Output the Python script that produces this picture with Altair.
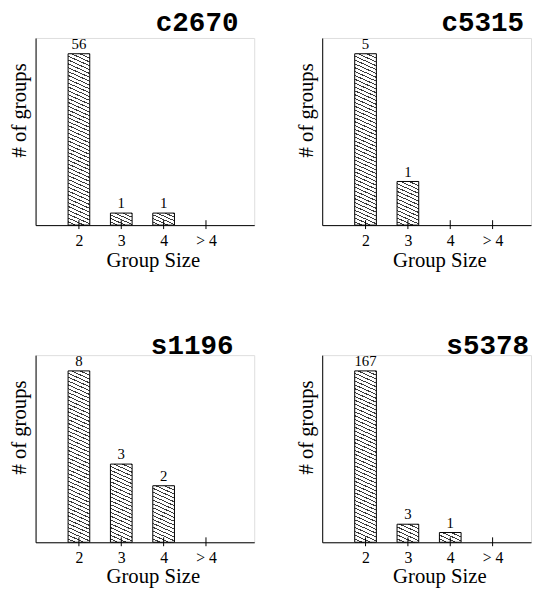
import json
import math
import altair as alt
import pandas as pd

# ---------------- data ----------------
group_sizes = ["2", "3", "4", "> 4"]
circuits = ["c2670", "c5315", "s1196", "s5378"]
counts_c2670 = [56, 1, 1, 0]
counts_c5315 = [5, 1, 0, 0]
counts_s1196 = [8, 3, 2, 0]
counts_s5378 = [167, 3, 1, 0]
all_counts = [counts_c2670, counts_c5315, counts_s1196, counts_s5378]

# ---------------- styling ----------------
H = 190
WIDTHS = [222, 212, 222, 212]
STEP = 43.0              # px between category ticks
LEFT_GAP = 44.0          # px from y axis to first tick
BAR_H_MAX = 174          # pixel height of tallest bar
BAR_W = 22
EXPONENTS = [0.66, 0.85, 0.80, 0.56]   # per-panel pow scale (figure is not linear)
TITLE_OFFSETS = [0, 0, -6, -6]
TITLE_DX = [-16, -7, -21, -2]
X_TITLE_Y = [25, 25, 24, 24]
SERIF = "Liberation Serif"
MONO = "Liberation Mono"
SLOPE = 0.45
PERIOD = 3.6


def hatch(h, w=BAR_W, s=SLOPE):
    """Diagonal '\\' hatching as a striped linear gradient for a bar of w x h px."""
    k = (h + s * w) / (s * s * w * w + h * h)
    x2 = 1 - k * s * w
    y2 = k * h
    n = max(1, round((h + s * w) / math.sqrt(1 + s * s) / PERIOD))
    f = 0.28
    stops = []
    for i in range(n):
        a, b, c = i / n, (i + f) / n, (i + 1) / n
        stops += [
            {"offset": a, "color": "#3a3a3a"},
            {"offset": b, "color": "#3a3a3a"},
            {"offset": b, "color": "#ffffff"},
            {"offset": c, "color": "#ffffff"},
        ]
    return {"gradient": "linear", "x1": 1, "y1": 0, "x2": x2, "y2": y2, "stops": stops}


label_expr = json.dumps(group_sizes) + "[datum.value]"


def panel(name, counts, expo, title_offset, W, x_title_y, tdx):
    df = pd.DataFrame({"pos": list(range(len(group_sizes))),
                       "size": group_sizes,
                       "count": counts})
    vmax = max(counts)
    dmax = vmax * (H / BAR_H_MAX) ** (1 / expo)
    x0 = -LEFT_GAP / STEP
    xscale = alt.Scale(domain=[x0, x0 + W / STEP], nice=False, zero=False, padding=0)
    yscale = alt.Scale(type="pow", exponent=expo, domain=[0, dmax], nice=False, padding=0)
    xaxis = alt.Axis(values=list(range(len(group_sizes))), labelExpr=label_expr,
                     ticks=False, tickSize=0, grid=False, domainColor="black",
                     domainWidth=1, labelFont=SERIF, labelFontSize=16,
                     labelColor="black", labelPadding=8,
                     title="Group Size", titleFont=SERIF, titleFontSize=21,
                     titleFontWeight="normal", titleColor="black",
                     titleX=119, titleY=x_title_y, titleBaseline="top")
    yaxis = alt.Axis(labels=False, ticks=False, tickSize=0, grid=False,
                     domainColor="black", domainWidth=1,
                     title="# of groups", titleFont=SERIF, titleFontSize=21,
                     titleFontWeight="normal", titleColor="black",
                     titleY=73, titlePadding=6)
    X = alt.X("pos:Q", scale=xscale, axis=xaxis)
    Y = alt.Y("count:Q", scale=yscale, axis=yaxis)

    layers = []
    for i, v in enumerate(counts):
        if v <= 0:
            continue
        h = BAR_H_MAX * (v / vmax) ** expo
        layers.append(
            alt.Chart(df).transform_filter(alt.datum.pos == i)
            .mark_bar(size=BAR_W, fill=hatch(h), stroke="black", strokeWidth=1)
            .encode(x=X, y=Y)
        )
    ticks = alt.Chart(df).mark_rule(color="black", strokeWidth=1).encode(
        x=X, y=alt.value(H - 5), y2=alt.value(H + 4))
    labels = alt.Chart(df).transform_filter(alt.datum.count > 0).mark_text(
        font=SERIF, fontSize=15, baseline="alphabetic", dy=-5, color="black"
    ).encode(x=X, y=Y, text="count:Q")
    return alt.layer(*layers, ticks, labels).properties(
        width=W, height=H,
        title=alt.TitleParams(name, anchor="end", frame="group", font=MONO,
                              fontWeight="bold", fontSize=28, color="black",
                              offset=title_offset, dx=tdx),
    )


panels = [panel(*args) for args in
          zip(circuits, all_counts, EXPONENTS, TITLE_OFFSETS, WIDTHS, X_TITLE_Y, TITLE_DX)]

chart = alt.vconcat(
    alt.hconcat(panels[0], panels[1], spacing=40),
    alt.hconcat(panels[2], panels[3], spacing=40),
    spacing=61,
).properties(
    padding={"left": 0, "top": -4, "right": 0, "bottom": -3}
).configure_view(stroke=None).configure(background="white")

chart.save("out.html", embed_options={"renderer": "svg", "actions": False})
